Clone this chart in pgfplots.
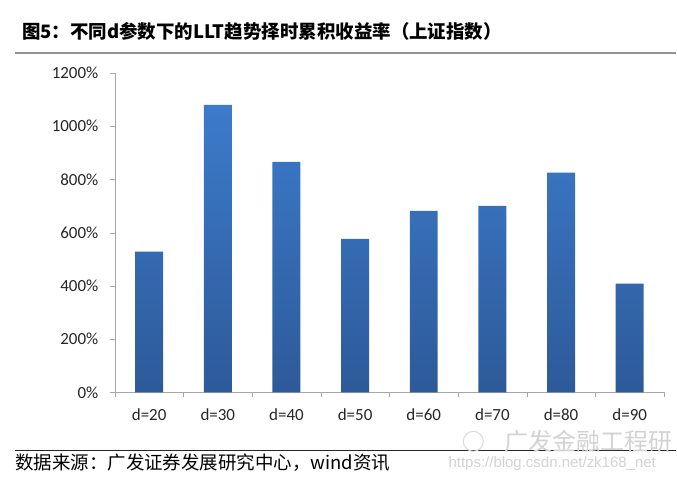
\documentclass[border=0pt]{standalone}
\usepackage{pgfplots}
\pgfplotsset{compat=1.18}
\usepackage{fontspec}
\setmainfont{Carlito}
\newfontfamily\cjk{Noto Sans CJK SC}
\newfontfamily\wm{Liberation Sans}
\definecolor{bartop}{HTML}{3C7BCB}
\definecolor{barbot}{HTML}{2D5A99}
\definecolor{axgray}{HTML}{A6A6A6}
\pgfplotstableread{
x y
0 529
1 1080
2 866
3 577
4 682
5 701
6 825
7 409
}\datatable
\begin{document}
\begin{tikzpicture}[x=1pt,y=1pt]
\path (0,0) rectangle (677,482);
\node[anchor=west,inner sep=0pt] at (22,451) {\cjk\fontsize{18.5}{20}\selectfont\bfseries 图5：不同d参数下的LLT趋势择时累积收益率（上证指数）};
\draw[line width=2pt,color=gray!85] (15,429) -- (677,429);
\begin{axis}[
  at={(115pt,89pt)}, anchor=south west,
  scale only axis, width=550pt, height=320pt,
  xmin=-0.5, xmax=7.5, ymin=0, ymax=1200,
  axis lines=left, axis line style={draw=axgray,-},
  ytick={0,200,...,1200},
  yticklabel={\pgfmathprintnumber[1000 sep={}]{\tick}\%},
  xtick={-0.5,0.5,...,7.5},
  x tick label as interval,
  xticklabels={d=20,d=30,d=40,d=50,d=60,d=70,d=80,d=90},
  tick align=outside, major tick length=5pt,
  tick style={draw=axgray},
  ticklabel style={font=\fontsize{17}{19}\selectfont, text=black!85},
  /pgf/number format/assume math mode=true,
  yticklabel style={xshift=-8pt},
  xticklabel style={yshift=-8pt},
  ybar, bar width=28pt,
]
\addplot[draw=none, shading=axis, top color=bartop, bottom color=barbot, shading angle=0] table[x=x,y=y] {\datatable};
\end{axis}
\draw[line width=1.2pt,color=black!85] (15,31) -- (677,31);
\draw[gray!30, line width=1pt] (474,40) circle (10);
\node[anchor=west,inner sep=0pt,text=gray!35] at (505,40) {\cjk\fontsize{24}{26}\selectfont 广发金融工程研};
\node[anchor=west,inner sep=0pt,text=gray!35] at (449,18) {\wm\fontsize{15}{17}\selectfont https://blog.csdn.net/zk168\_net};
\node[anchor=west,inner sep=0pt] at (15,19) {\cjk\fontsize{18.5}{20}\selectfont 数据来源：广发证券发展研究中心，wind资讯};
\end{tikzpicture}
\end{document}
